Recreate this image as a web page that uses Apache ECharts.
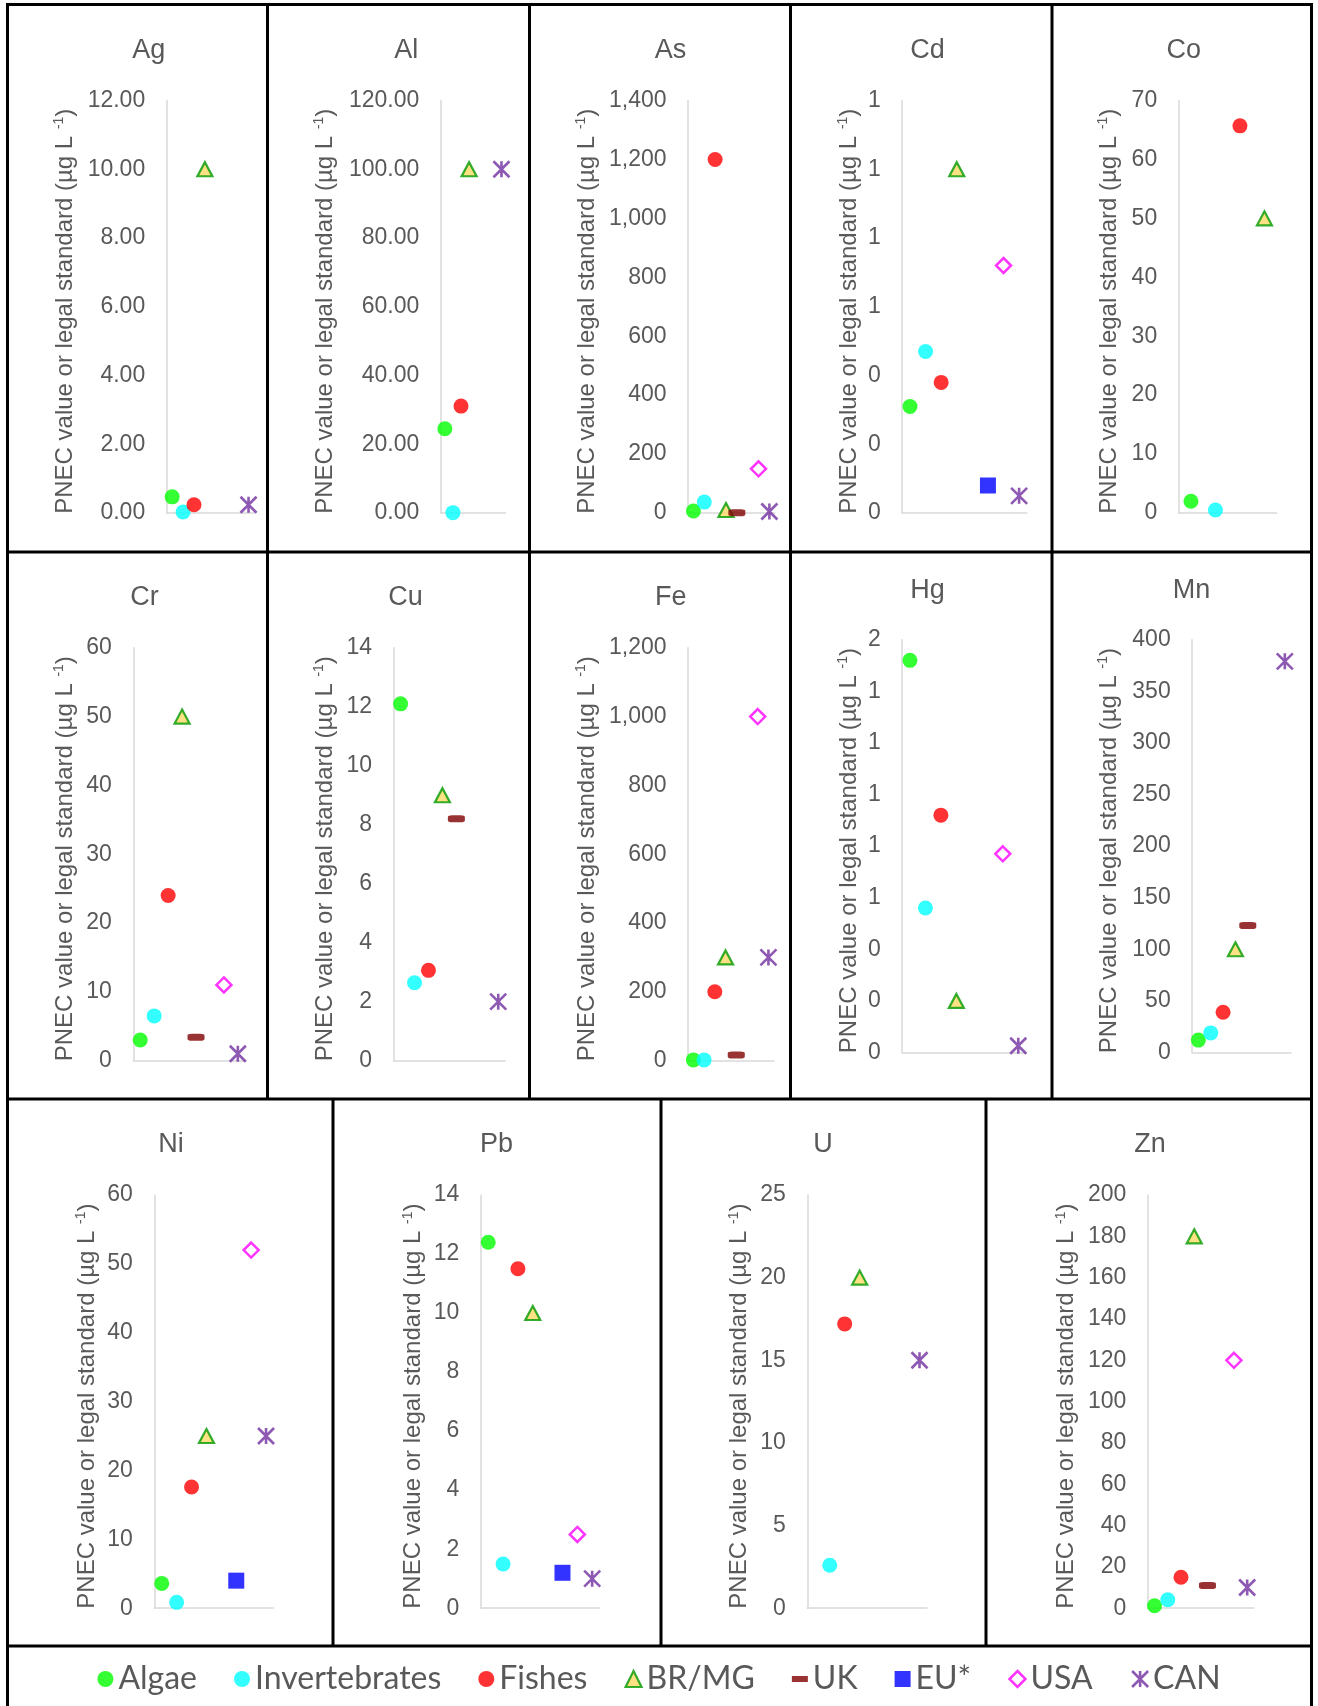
<!DOCTYPE html>
<html>
<head>
<meta charset="utf-8">
<script src="https://cdn.jsdelivr.net/npm/echarts@6/dist/echarts.min.js"></script>
<style>
html, body { margin: 0; padding: 0; background: #fff; }
#chart { width: 1318px; height: 1706px; }
</style>
</head>
<body>
<div id="chart"></div>
<script>
// One panel per metal
const metals = ['Ag', 'Al', 'As', 'Cd', 'Co', 'Cr', 'Cu', 'Fe', 'Hg', 'Mn', 'Ni', 'Pb', 'U', 'Zn'];
// Reference groups: x categories and legend entries
const groups = ['Algae', 'Invertebrates', 'Fishes', 'BR/MG', 'UK', 'EU*', 'USA', 'CAN'];

// PNEC value or legal standard (µg L-1), listed in metal order; null = no value
const algae         = [0.47, 24.5, 7,    0.31, 2.0,  3.0, 12.1, 2,    1.52,  12,  3.6,  12.4, null, 1.2];
const invertebrates = [0.03, 0.1,  37,   0.47, 0.5,  6.5, 2.64, 2,    0.56,  19,  0.85, 1.5,  2.6,  4.1];
const fishes        = [0.24, 31.1, 1200, 0.38, 65.7, 24,  3.06, 200,  0.92,  39,  17.6, 11.5, 17.2, 15];
const brmg          = [10,   100,  10,   1.0,  50,   50,  9,    300,  0.2,   100, 25,   10,   20,   180];
const uk            = [null, null, 1,    null, null, 3.4, 8.2,  16,   null,  123, null, null, null, 11];
const eu            = [null, null, null, 0.08, null, null, null, null, null, null, 4,   1.2,  null, null];
const usa           = [null, null, 150,  0.72, null, 11,  null, 1000, 0.77,  null, 52,  2.5,  null, 120];
const can           = [0.24, 100,  5,    0.05, null, 1,   2,    300,  0.026, 379, 25,   1,    15,   10];

// y-axis tick labels: top value, step and decimals shown
const yMax      = [12, 120, 1400, 1.2, 70, 60, 14, 1200, 1.6, 400, 60, 14, 25, 200];
const yStep     = [2, 20, 200, 0.2, 10, 10, 2, 200, 0.2, 50, 10, 2, 5, 20];
const yDecimals = [2, 2, 0, 0, 0, 0, 0, 0, 0, 0, 0, 0, 0, 0];

const groupValues = [algae, invertebrates, fishes, brmg, uk, eu, usa, can];

// Panel layout in px: y-axis x, plot top, plot bottom (zero line), x-axis end,
// title centre x, title centre y, distance from y-axis to axis-name centre
const panelLayout = [
  [166.7, 100.5, 513,    254,    148.8,  51,    101.3],
  [440.8, 100.5, 513,    505.5,  406.3,  51,    115.4],
  [688,   100.5, 513,    774.8,  670.5,  51,    101],
  [902.2, 100.5, 513,    1026.9, 927.4,  51,    53.3],
  [1178.7,100.5, 513,    1276.7, 1183.7, 51,    69.4],
  [133.3, 647.8, 1060.6, 244.8,  144.6,  597.6, 67.9],
  [393.6, 647.8, 1060.6, 505.2,  405.6,  597.6, 68.2],
  [688,   647.8, 1060.6, 773.8,  670.8,  597.6, 101],
  [902.2, 639.7, 1052.5, 1026,   927.4,  590.6, 53.3],
  [1192.2,639.7, 1052.5, 1291,   1191.5, 590.6, 82.9],
  [154.3, 1195,  1608.2, 273.5,  171,    1145,  66.7],
  [480.8, 1195,  1608.2, 599.6,  496.6,  1145,  67.1],
  [807.3, 1195,  1608.2, 927,    823,    1145,  67.6],
  [1147.9,1195,  1608.2, 1253.8, 1150,   1145,  81.2]
];

const TEXT = '#595959';
const AXIS = '#D9D9D9';
const FONT = 'Liberation Sans';

// Marker look of each group
const groupStyle = [
  { symbol: 'circle', symbolSize: 15, itemStyle: { color: '#00FF00' } },
  { symbol: 'circle', symbolSize: 15, itemStyle: { color: '#00FFFF' } },
  { symbol: 'circle', symbolSize: 15, itemStyle: { color: '#FF0000' } },
  { symbol: 'triangle', symbolSize: [15, 14], itemStyle: { color: '#FFD966', borderColor: '#009A00', borderWidth: 2.2 } },
  { symbol: 'roundRect', symbolSize: [17, 7], itemStyle: { color: '#7F0000' } },
  { symbol: 'rect', symbolSize: 16, itemStyle: { color: '#0000FF' } },
  { symbol: 'diamond', symbolSize: 15, itemStyle: { color: '#FFFFFF', borderColor: '#FF00FF', borderWidth: 2.5 } },
  { symbol: 'path://M0,0L10,10M10,0L0,10M5,0L5,10', symbolSize: 16, itemStyle: { color: 'none', borderColor: '#7030A0', borderWidth: 2.6 } }
];

const legendIcons = [
  'circle', 'circle', 'circle', 'triangle',
  'path://M0,0M16,16M0,5L16,5L16,11L0,11Z',
  'rect', 'diamond', 'path://M0,0L10,10M10,0L0,10M5,0L5,10'
];

const grids = [], xAxes = [], yAxes = [], titles = [], series = [];

metals.forEach((metal, i) => {
  const [ax, top, bottom, right, tx, ty, nameDist] = panelLayout[i];
  const dec = yDecimals[i];

  grids.push({ left: ax, top: top, width: right - ax, height: bottom - top, outerBoundsMode: 'none', containLabel: false });

  // categories run up to the last group that has a value for this metal
  let nCat = 0;
  groupValues.forEach((vals, g) => { if (vals[i] != null) nCat = g + 1; });

  xAxes.push({
    type: 'category', gridIndex: i, data: groups.slice(0, nCat), boundaryGap: true,
    axisLine: { show: true, lineStyle: { color: AXIS, width: 1.5 } },
    axisTick: { show: false }, axisLabel: { show: false }, splitLine: { show: false }
  });

  yAxes.push({
    type: 'value', gridIndex: i, min: 0, max: yMax[i], interval: yStep[i],
    axisLine: { show: true, lineStyle: { color: AXIS, width: 1.5 } },
    axisTick: { show: false }, splitLine: { show: false },
    axisLabel: {
      margin: 21.5, color: TEXT, fontSize: 23, fontFamily: FONT,
      formatter: v => v.toLocaleString('en-US', { minimumFractionDigits: dec, maximumFractionDigits: dec })
    },
    name: '{t|PNEC value or legal standard (µg L }{s|-1}{t|)}',
    nameLocation: 'middle', nameGap: nameDist - 13, nameMoveOverlap: false,
    nameTextStyle: {
      padding: [0, 9, 0, 0],
      rich: {
        t: { fontSize: 24, fontFamily: FONT, color: TEXT, lineHeight: 26 },
        s: { fontSize: 14, fontFamily: FONT, color: TEXT, lineHeight: 15, verticalAlign: 'top' }
      }
    }
  });

  titles.push({
    text: metal, left: tx, top: ty, textAlign: 'center', textVerticalAlign: 'middle', padding: 0,
    textStyle: { fontSize: 27, fontWeight: 'normal', color: TEXT, fontFamily: FONT }
  });

  groupValues.forEach((vals, g) => {
    if (vals[i] == null) return;
    series.push(Object.assign({
      type: 'scatter', name: groups[g], xAxisIndex: i, yAxisIndex: i,
      data: [[g, vals[i]]], clip: false, silent: true, animation: false
    }, groupStyle[g]));
  });
});

// Table rules framing the panels and the legend
const rule = (x1, y1, x2, y2) => ({
  type: 'line', silent: true, z: 100,
  shape: { x1, y1, x2, y2 }, style: { stroke: '#000', lineWidth: 3 }
});
const hLines = [4.5, 552, 1099, 1646];
const vTop = [267.5, 529.5, 790.5, 1052];
const vBottom = [333, 661, 986];
const graphics = [];
hLines.forEach(y => graphics.push(rule(6, y, 1313, y)));
graphics.push(rule(7.5, 3, 7.5, 1706));
graphics.push(rule(1311.5, 3, 1311.5, 1706));
vTop.forEach(x => graphics.push(rule(x, 4.5, x, 1099)));
vBottom.forEach(x => graphics.push(rule(x, 1099, x, 1646)));

const chart = echarts.init(document.getElementById('chart'), null, { renderer: 'canvas' });
chart.setOption({
  animation: false,
  backgroundColor: '#FFFFFF',
  title: titles,
  grid: grids,
  xAxis: xAxes,
  yAxis: yAxes,
  series: series,
  legend: {
    left: 'center', top: 1661, padding: 0, itemGap: 37, itemWidth: 16, itemHeight: 16,
    selectedMode: false,
    textStyle: { fontSize: 32, color: TEXT, fontFamily: 'Lato', lineHeight: 36 },
    data: groups.map((g, k) => ({ name: g, icon: legendIcons[k], itemStyle: groupStyle[k].itemStyle }))
  },
  graphic: graphics
});
</script>
</body>
</html>
